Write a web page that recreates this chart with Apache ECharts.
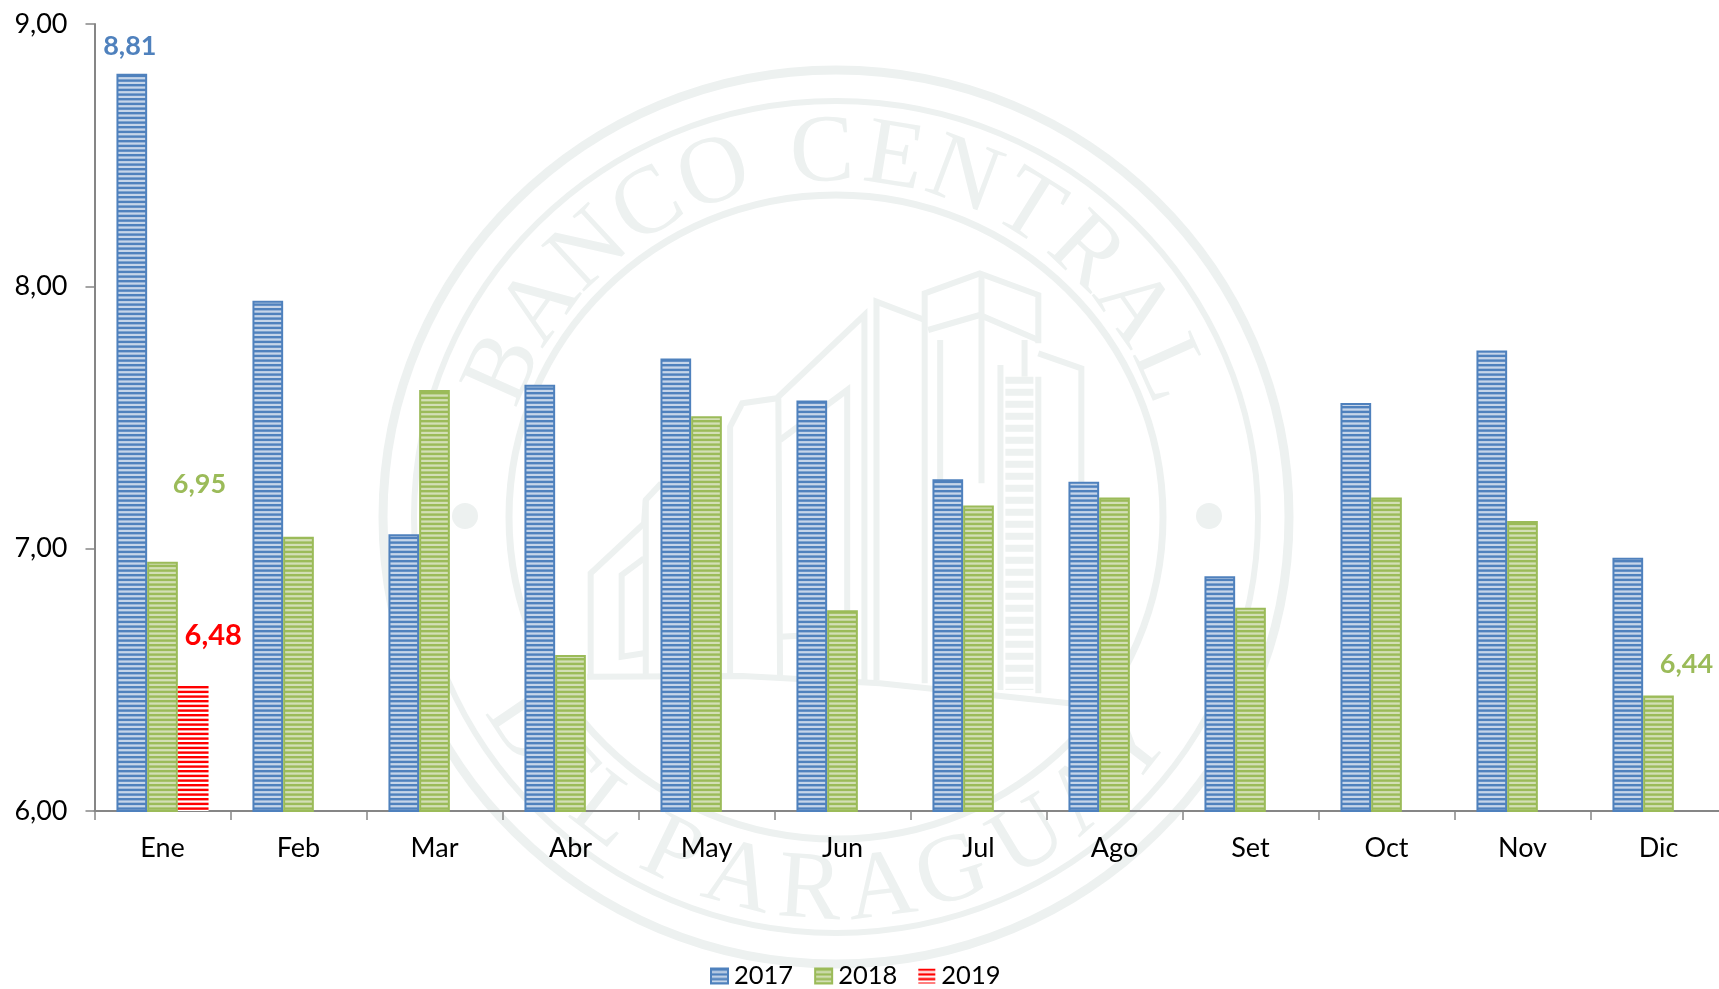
<!DOCTYPE html>
<html><head><meta charset="utf-8">
<style>html,body{margin:0;padding:0;background:#fff}#c{width:1719px;height:989px}</style>
<script src="https://cdn.jsdelivr.net/npm/echarts@6/dist/echarts.min.js"></script>
</head><body><div id="c"></div>
<script>
const months = ['Ene','Feb','Mar','Abr','May','Jun','Jul','Ago','Set','Oct','Nov','Dic'];
const v2017 = [8.81,7.945,7.055,7.625,7.725,7.565,7.265,7.255,6.895,7.555,7.755,6.965];
const v2018 = [6.95,7.045,7.605,6.595,7.505,6.765,7.165,7.195,6.775,7.195,7.105,6.44];
const v2019 = [6.48,null,null,null,null,null,null,null,null,null,null,null];
const fmt = v => v.toFixed(2).replace('.', ',');
const FONT = 'Lato';
const WM = '#edf1f0';

function stripes(dark, light) {
  const cv = document.createElement('canvas');
  cv.width = 4; cv.height = 14;
  const g = cv.getContext('2d');
  g.fillStyle = light; g.fillRect(0,0,4,14);
  g.fillStyle = dark;
  g.fillRect(0,0,4,2.4); g.fillRect(0,4.7,4,2.4); g.fillRect(0,9.4,4,2.4);
  return {image: cv, repeat: 'repeat'};
}
const cBlue = '#4f81bd', cGreen = '#9bbb59', cRed = '#ff0000';

function lab(color, dx, dy, size) {
  return {show:true, position:'top', offset:[dx,dy], color, fontFamily:FONT, fontWeight:700, fontSize:size,
    formatter:p=>fmt(p.value)};
}
const d2017 = v2017.map((v,i)=> i===0 ? {value:v,label:lab(cBlue,-2,-9,27)} : v);
const d2018 = v2018.map((v,i)=> i===0 ? {value:v,label:lab(cGreen,37,-59,27)} : i===11 ? {value:v,label:lab(cGreen,28,-13,27)} : v);
const d2019 = v2019.map((v,i)=> i===0 ? {value:v,label:lab(cRed,20,-30,29)} : v);

// watermark seal, decoration only
const CX = 836, CY = 517;
const wm = [];
[[453,447,9],[422,416,6],[327,322,7]].forEach(([rx,ry,w])=>wm.push({type:'ellipse',z:0,silent:true,shape:{cx:CX,cy:CY,rx,ry},style:{fill:'none',stroke:WM,lineWidth:w}}));
[465,1209].forEach(x=>wm.push({type:'circle',z:0,silent:true,shape:{cx:x,cy:516,r:13},style:{fill:WM}}));
function arcText(str, angles, r, top){
  [...str].forEach((ch,i)=>{
    const a=angles[i]*Math.PI/180;
    wm.push({type:'text',z:0,silent:true,x:CX+r*Math.sin(a),y:CY+(top?-1:1)*r*Math.cos(a),rotation:top?-a:a,
      style:{text:ch,fill:WM,font:'96px "Liberation Serif"',textAlign:'center',textVerticalAlign:'middle'}});
  });
}
arcText('BANCOCENTRAL',[-66,-54.4,-42.8,-31.2,-19.6,-2.2,9.2,20.6,32,43.4,54.8,66],362,true);
arcText('DELPARAGUAY',[-56,-47,-38,-26,-15,-4,7,18,31,42,52],376,false);
const px = p => p.map(([x,y])=>[570+x/2.904,250+y/3]);
[
 [[60,1280],[60,970],[215,820],[220,750],[265,700]],
 [[215,925],[150,975],[150,1220],[215,1210]],
 [[220,750],[220,1280]],
 [[465,1280],[465,530],[500,460],[600,445],[855,195],[855,1300]],
 [[605,445],[610,1280]],
 [[610,570],[805,420],[805,1150],[610,1160]],
 [[890,1290],[890,155],[1030,210]],
 [[1030,1300],[1030,130],[1190,70],[1360,135],[1360,280]],
 [[1195,70],[1195,700]],
 [[1040,240],[1190,195],[1360,270]],
 [[1075,270],[1075,690]],
 [[1360,310],[1485,355],[1485,700]],
 [[1320,270],[1320,380]],
 [[1250,345],[1250,1320]],
 [[1360,380],[1360,1330]],
 [[50,1280],[500,1278],[900,1300],[1450,1360],[1568,1385]]
].forEach(p=>wm.push({type:'polyline',z:0,silent:true,shape:{points:px(p)},style:{fill:'none',stroke:WM,lineWidth:6}}));
wm.push({type:'polyline',z:0,silent:true,shape:{points:px([[1305,380],[1305,1320]])},style:{fill:'none',stroke:WM,lineWidth:28,lineDash:[7,5]}});

const mk = (name,data,dark,light,border) => ({
  name,type:'bar',data,barWidth:30.7,barGap:0,z:3,
  itemStyle:{color:stripes(dark,light),borderColor:border,borderWidth:border==='transparent'?0:2}
});
const chart = echarts.init(document.getElementById('c'),null,{renderer:'canvas'});
chart.setOption({
  animation:false,
  backgroundColor:'#fff',
  graphic:{elements:wm},
  textStyle:{fontFamily:FONT},
  grid:{left:94.5,top:24,width:1632,height:787,containLabel:false,outerBoundsMode:'none'},
  legend:{left:710,top:963,padding:0,icon:'rect',itemWidth:17,itemHeight:15,itemGap:21,
    textStyle:{color:'#000',fontSize:25.5,fontFamily:FONT,padding:[0,0,0,1]},
    data:['2017','2018','2019']},
  xAxis:{type:'category',data:months,
    axisLine:{lineStyle:{color:'#868686',width:2}},
    axisTick:{show:true,length:9,lineStyle:{color:'#868686',width:1.5}},
    axisLabel:{show:true,interval:0,color:'#000',fontSize:27,fontFamily:FONT,margin:24}},
  yAxis:{type:'value',min:6,max:9,interval:1,
    axisLine:{show:true,lineStyle:{color:'#868686',width:2}},
    axisTick:{show:true,length:9,lineStyle:{color:'#868686',width:1.5}},
    splitLine:{show:false},
    axisLabel:{color:'#000',fontSize:27,fontFamily:FONT,margin:27,formatter:fmt}},
  series:[
    mk('2017',d2017,cBlue,'#c6d5e9',cBlue),
    mk('2018',d2018,cGreen,'#d3dfb6',cGreen),
    mk('2019',d2019,cRed,'#ffffff','transparent')
  ]
});
</script></body></html>
